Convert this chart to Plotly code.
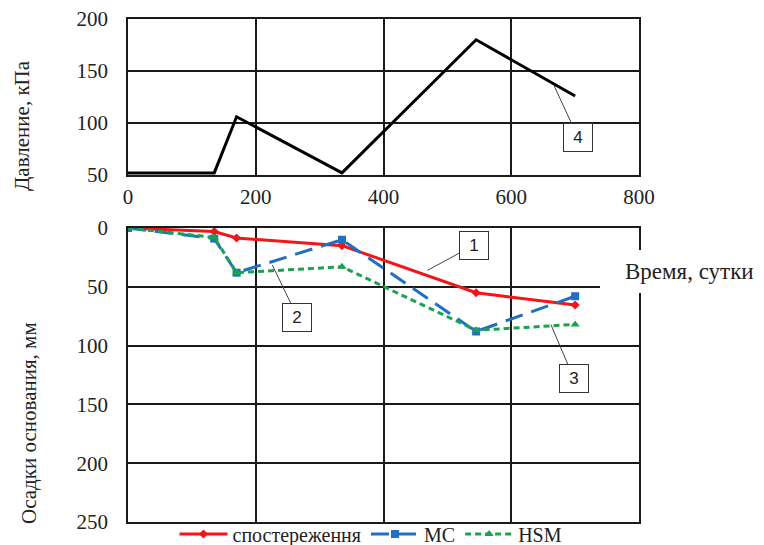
import plotly.graph_objects as go

# ---- data ----
days_p = [0, 135, 170, 335, 545, 700]
pressure = [52, 52, 106, 52, 180, 126]

days_s = [0, 135, 170, 335, 545, 700]
obs = [0, 3, 8.5, 15, 55, 65.5]
mc = [0, 9, 38, 10, 88, 58]
hsm = [0, 8, 38, 33, 87, 82]

x_ticks = [0, 200, 400, 600, 800]
p_ticks = [50, 100, 150, 200]
s_ticks = [0, 50, 100, 150, 200, 250]

FONT = "Liberation Serif"
W, H = 764, 545
OFF = 8  # page body margin
GRID = "#1a1a1a"

def px(x):
    return (x - OFF) / W

def py(y):
    return 1 - (y - OFF) / H

fig = go.Figure()

fig.add_trace(go.Scatter(x=days_p, y=pressure, mode="lines",
                         line=dict(color="black", width=3),
                         showlegend=False, xaxis="x", yaxis="y"))

fig.add_trace(go.Scatter(x=days_s, y=obs, mode="lines+markers", name="спостереження",
                         line=dict(color="#f21616", width=3),
                         marker=dict(symbol="diamond", size=7, color="#f21616"),
                         xaxis="x2", yaxis="y2"))
fig.add_trace(go.Scatter(x=days_s, y=mc, mode="lines+markers", name="MC",
                         line=dict(color="#1f6fc4", width=3, dash="18px,9px"),
                         marker=dict(symbol="square", size=8, color="#1f6fc4"),
                         xaxis="x2", yaxis="y2"))
fig.add_trace(go.Scatter(x=days_s, y=hsm, mode="lines+markers", name="HSM",
                         line=dict(color="#1aa34e", width=3, dash="6px,4px"),
                         marker=dict(symbol="triangle-up", size=8, color="#1aa34e"),
                         xaxis="x2", yaxis="y2"))

xdom = [px(128), px(639)]
axis_common = dict(showgrid=True, gridcolor=GRID, gridwidth=1.5,
                   showline=True, linecolor=GRID, linewidth=1.5, mirror=True,
                   zeroline=False, ticks="", automargin=False,
                   ticklabeloverflow="allow",
                   tickfont=dict(family=FONT, size=21, color="#222"))

fig.update_layout(
    width=W, height=H,
    margin=dict(l=0, r=0, t=0, b=0, autoexpand=False),
    paper_bgcolor="white", plot_bgcolor="white",
    font=dict(family=FONT, size=20, color="#222"),
    xaxis=dict(domain=xdom, anchor="y", range=[0, 800], tickvals=x_ticks,
               ticklabelstandoff=2, **axis_common),
    yaxis=dict(domain=[py(175), py(19)], anchor="x", range=[50, 200],
               tickvals=p_ticks, ticklabelstandoff=14, **axis_common),
    xaxis2=dict(domain=xdom, anchor="y2", range=[0, 800], tickvals=x_ticks,
                showticklabels=False, **axis_common),
    yaxis2=dict(domain=[py(522), py(228)], anchor="x2", range=[250, 0],
                tickvals=s_ticks, ticklabelstandoff=14, **axis_common),
    showlegend=True,
    legend=dict(orientation="h", x=px(371), xanchor="center", y=py(534), yanchor="middle",
                font=dict(family=FONT, size=20, color="#222"),
                bgcolor="rgba(0,0,0,0)", itemwidth=48, tracegroupgap=0),
)

# white patch behind the x-axis title of the lower plot
fig.add_shape(type="rect", xref="paper", yref="paper",
              x0=px(600), x1=px(780), y0=py(293), y1=py(250),
              fillcolor="white", line=dict(width=0), layer="above")

annos = []
annos.append(dict(text="Время, сутки", xref="paper", yref="paper",
                  x=px(623), y=py(271), xanchor="left", yanchor="middle",
                  showarrow=False, font=dict(family=FONT, size=23, color="#222")))
annos.append(dict(text="Давление, кПа", xref="paper", yref="paper",
                  x=px(22), y=py(126), xanchor="center", yanchor="middle",
                  textangle=-90, showarrow=False,
                  font=dict(family=FONT, size=21, color="#222")))
annos.append(dict(text="Осадки основания, мм", xref="paper", yref="paper",
                  x=px(29), y=py(423), xanchor="center", yanchor="middle",
                  textangle=-90, showarrow=False,
                  font=dict(family=FONT, size=21, color="#222")))

def label(txt, xr, yr, x, y, ax, ay):
    return dict(text=txt, xref=xr, yref=yr, x=x, y=y, ax=ax, ay=ay,
                showarrow=True, arrowhead=0, arrowwidth=1, arrowcolor="#444",
                bordercolor="#333", borderwidth=1, borderpad=4, bgcolor="white",
                width=20, font=dict(family="Liberation Sans", size=17, color="#222"))

annos.append(label("4", "x", "y", 667, 136, 24, 52))
annos.append(label("1", "x2", "y2", 469, 36, 46, -25))
annos.append(label("2", "x2", "y2", 226, 31.5, 25, 52))
annos.append(label("3", "x2", "y2", 662, 82, 23, 54))

fig.update_layout(annotations=annos)

fig.write_html("out.html")
